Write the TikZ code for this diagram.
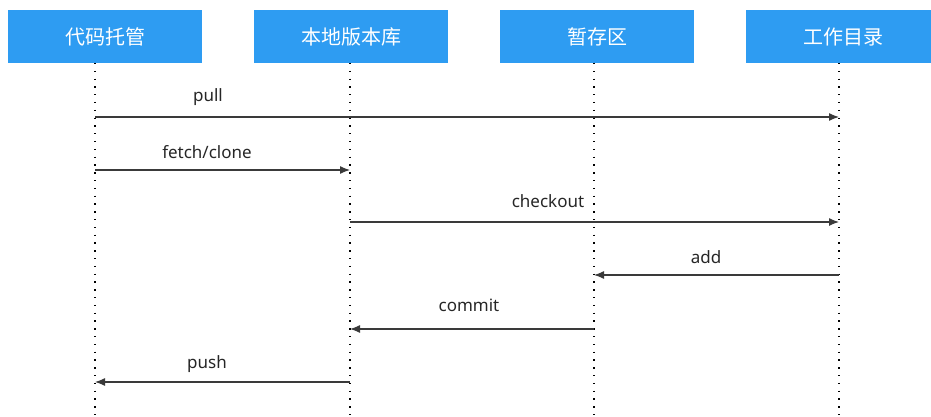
\documentclass[tikz,border=0pt]{standalone}
\usepackage{fontspec}
\setmainfont{Noto Sans CJK SC}
\newfontfamily\lblfont{Noto Sans}
\usetikzlibrary{arrows.meta,positioning,calc}
\definecolor{boxblue}{HTML}{2E9CF2}
\definecolor{msggray}{HTML}{3A3A3A}

\begin{document}
\begin{tikzpicture}[x=1pt, y=-1pt, thick, main node/.style={rectangle,fill=boxblue,text=white,minimum width=194pt,minimum height=53pt,inner sep=0pt,font=\fontsize{20}{22}\selectfont}, life/.style={line width=1.3pt,dash pattern=on 1.3pt off 6.5pt}, msg/.style={draw=msggray,line width=1.2pt,-{Latex[length=10pt,width=8pt]}}, lbl/.style={font=\lblfont\fontsize{17}{19}\selectfont,text=black!85,inner sep=0pt}]
\useasboundingbox (0,0) rectangle (931,417);
\begin{scope}
\node[main node] (remote) at (105,36.5) {代码托管};
\node[main node] (repo) at (351,36.5) {本地版本库};
\node[main node] (stage) at (597,36.5) {暂存区};
\node[main node] (work) at (843,36.5) {工作目录};
\end{scope}
% lifelines
\coordinate (lremote) at (95,63);
\coordinate (lrepo) at (350,63);
\coordinate (lstage) at (594,63);
\coordinate (lwork) at (839,63);
\coordinate (bottom) at (0,417);
\foreach \n in {lremote,lrepo,lstage,lwork}
  \draw[life] (\n) -- (\n |- bottom);
\coordinate (y1) at (0,117);
\coordinate (y2) at (0,170);
\coordinate (y3) at (0,222);
\coordinate (y4) at (0,275);
\coordinate (y5) at (0,329);
\coordinate (y6) at (0,382);
\begin{scope}
\draw[msg] (lremote |- y1) -- (lwork |- y1);
\draw[msg] (lremote |- y2) -- (lrepo |- y2);
\draw[msg] (lrepo |- y3) -- (lwork |- y3);
\draw[msg] (lwork |- y4) -- (lstage |- y4);
\draw[msg] (lstage |- y5) -- (lrepo |- y5);
\draw[msg] (lrepo |- y6) -- (lremote |- y6);
\end{scope}
\begin{scope}
\node[lbl] (lpull) at (208,97) {pull};
\node[lbl] (lfetch) at (207,152) {fetch/clone};
\node[lbl] (lcheckout) at (548,201) {checkout};
\node[lbl] (ladd) at (706,257) {add};
\node[lbl] (lcommit) at (469,305) {commit};
\node[lbl] (lpush) at (207,364) {push};
\end{scope}
\end{tikzpicture}
\end{document}
